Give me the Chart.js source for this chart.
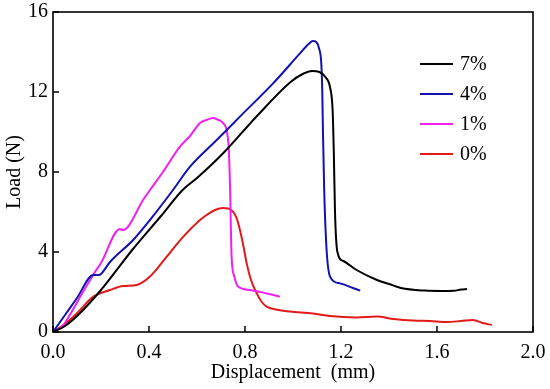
<!DOCTYPE html>
<html>
<head>
<meta charset="utf-8">
<script src="https://cdn.jsdelivr.net/npm/chart.js@4"></script>
<style>
  html, body { margin: 0; padding: 0; background: #fff; }
  canvas { display: block; }
</style>
</head>
<body>
<canvas id="chartCanvas" width="550" height="389"></canvas>
<script>
// --- data ---
const seriesLabels = ["7%", "4%", "1%", "0%"];
const seriesColors = ["#000000", "#1212b0", "#f020f0", "#e41a1a"];

const disp7 = [0, 0.05, 0.1, 0.2, 0.33, 0.45, 0.54, 0.6, 0.71, 0.85, 0.99, 1.04, 1.08, 1.11, 1.135, 1.155, 1.165, 1.17, 1.175, 1.185, 1.21, 1.265, 1.35, 1.4, 1.45, 1.55, 1.62, 1.67, 1.7, 1.725];
const load7 = [0, 0.3, 0.8, 2.1, 4.1, 5.8, 7.1, 7.7, 8.95, 10.8, 12.5, 12.9, 13.05, 13.0, 12.75, 12.2, 11.1, 9.0, 6.0, 4.0, 3.55, 3.1, 2.6, 2.4, 2.2, 2.07, 2.05, 2.06, 2.12, 2.15];

const disp4 = [0, 0.05, 0.1, 0.168, 0.19, 0.2, 0.2375, 0.334, 0.404, 0.5, 0.571, 0.682, 0.779, 0.917, 1.029, 1.065, 1.083, 1.097, 1.108, 1.118, 1.122, 1.125, 1.13, 1.14, 1.155, 1.196, 1.25, 1.28];
const load4 = [0, 0.85, 1.7, 2.85, 2.85, 2.9, 3.5, 4.6, 5.6, 7.1, 8.27, 9.6, 10.77, 12.43, 13.93, 14.4, 14.55, 14.5, 14.2, 13.4, 12.0, 9.9, 7.1, 4.1, 2.75, 2.43, 2.2, 2.07];

const disp1 = [0, 0.04, 0.07, 0.12, 0.175, 0.2, 0.279, 0.293, 0.313, 0.375, 0.404, 0.458, 0.529, 0.571, 0.6125, 0.64, 0.668, 0.69, 0.71, 0.725, 0.733, 0.738, 0.744, 0.755, 0.771, 0.82, 0.89, 0.946];
const load1 = [0, 0.3, 0.85, 1.9, 3.0, 3.45, 5.15, 5.1, 5.27, 6.6, 7.1, 8.0, 9.27, 9.8, 10.45, 10.6, 10.7, 10.6, 10.43, 10.0, 9.0, 7.1, 3.8, 2.8, 2.27, 2.1, 1.93, 1.77];

const disp0 = [0, 0.05, 0.099, 0.168, 0.2375, 0.292, 0.349, 0.404, 0.474, 0.543, 0.6125, 0.64, 0.675, 0.708, 0.73, 0.75, 0.765, 0.779, 0.795, 0.807, 0.825, 0.849, 0.87, 0.89, 0.94, 0.9875, 1.083, 1.154, 1.265, 1.35, 1.42, 1.5, 1.57, 1.64, 1.7, 1.75, 1.79, 1.828];
const load0 = [0, 0.4, 0.93, 1.77, 2.1, 2.3, 2.35, 2.77, 3.77, 4.77, 5.6, 5.85, 6.1, 6.2, 6.18, 6.02, 5.7, 5.1, 4.2, 3.43, 2.6, 1.93, 1.5, 1.27, 1.1, 1.02, 0.93, 0.8, 0.73, 0.77, 0.65, 0.57, 0.55, 0.5, 0.55, 0.6, 0.45, 0.35];

const xTicks = [0, 0.4, 0.8, 1.2, 1.6, 2.0];
const yTicks = [0, 4, 8, 12, 16];

const FONT = "'Liberation Serif', 'Times New Roman', serif";

function toPoints(xs, ys) {
  return xs.map((x, i) => ({ x: x, y: ys[i] }));
}

const seriesData = [
  toPoints(disp7, load7),
  toPoints(disp4, load4),
  toPoints(disp1, load1),
  toPoints(disp0, load0),
];

const datasets = seriesData.map((pts, i) => ({
  label: seriesLabels[i],
  data: pts,
  borderColor: seriesColors[i],
  borderWidth: 2,
  pointRadius: 0,
  cubicInterpolationMode: "monotone",
  fill: false,
}));

// scales keep to a fixed size, no extra room for overhanging labels
function fixSize(prop, size) {
  return (scale) => {
    scale[prop] = size;
    scale.paddingLeft = 0;
    scale.paddingRight = 0;
    scale.paddingTop = 0;
    scale.paddingBottom = 0;
  };
}

// frame, inward ticks and the in-plot legend
const framePlugin = {
  id: "frame",
  afterDatasetsDraw(chart) {
    const { ctx, chartArea: a, scales } = chart;
    ctx.save();
    ctx.strokeStyle = "#000";
    ctx.lineWidth = 1.6;
    ctx.strokeRect(a.left, a.top, a.right - a.left, a.bottom - a.top);

    ctx.lineWidth = 1.5;
    ctx.beginPath();
    xTicks.forEach((v) => {
      const px = scales.x.getPixelForValue(v);
      ctx.moveTo(px, a.bottom);
      ctx.lineTo(px, a.bottom - 6);
    });
    yTicks.forEach((v) => {
      const py = scales.y.getPixelForValue(v);
      ctx.moveTo(a.left, py);
      ctx.lineTo(a.left + 6, py);
    });
    ctx.stroke();

    // legend
    ctx.font = "20px " + FONT;
    ctx.textBaseline = "middle";
    ctx.textAlign = "left";
    chart.data.datasets.forEach((ds, i) => {
      const rowY = a.top + 52 + i * 30;
      const x0 = a.right - 113;
      ctx.strokeStyle = ds.borderColor;
      ctx.lineWidth = 2;
      ctx.beginPath();
      ctx.moveTo(x0, rowY);
      ctx.lineTo(x0 + 33, rowY);
      ctx.stroke();
      ctx.fillStyle = "#000";
      ctx.fillText(ds.label, x0 + 40, rowY + 1);
    });
    ctx.restore();
  },
};

const chart = new Chart(document.getElementById("chartCanvas").getContext("2d"), {
  type: "line",
  data: { datasets },
  options: {
    responsive: false,
    animation: false,
    devicePixelRatio: 1,
    layout: { padding: { left: 0, right: 17, top: 12, bottom: 0 } },
    plugins: {
      legend: { display: false },
      tooltip: { enabled: false },
    },
    scales: {
      x: {
        type: "linear",
        min: 0,
        max: 2,
        afterBuildTicks: (scale) => { scale.ticks = xTicks.map((v) => ({ value: v })); },
        afterFit: fixSize("height", 57),
        grid: { display: false, drawTicks: false },
        border: { display: false },
        ticks: {
          color: "#000",
          padding: 9,
          maxRotation: 0,
          autoSkip: false,
          font: { family: FONT, size: 20 },
          callback: (v) => Number(v).toFixed(1),
        },
        title: {
          display: true,
          text: "Displacement  (mm)",
          color: "#000",
          font: { family: FONT, size: 20 },
          padding: { top: 0, bottom: 4 },
        },
      },
      y: {
        min: 0,
        max: 16,
        afterBuildTicks: (scale) => { scale.ticks = yTicks.map((v) => ({ value: v })); },
        afterFit: fixSize("width", 53),
        grid: { display: false, drawTicks: false },
        border: { display: false },
        ticks: {
          color: "#000",
          padding: 5,
          font: { family: FONT, size: 20 },
        },
        title: {
          display: true,
          text: "Load (N)",
          color: "#000",
          font: { family: FONT, size: 20 },
          padding: { top: 3, bottom: 0 },
        },
      },
    },
  },
  plugins: [framePlugin],
});
</script>
</body>
</html>
